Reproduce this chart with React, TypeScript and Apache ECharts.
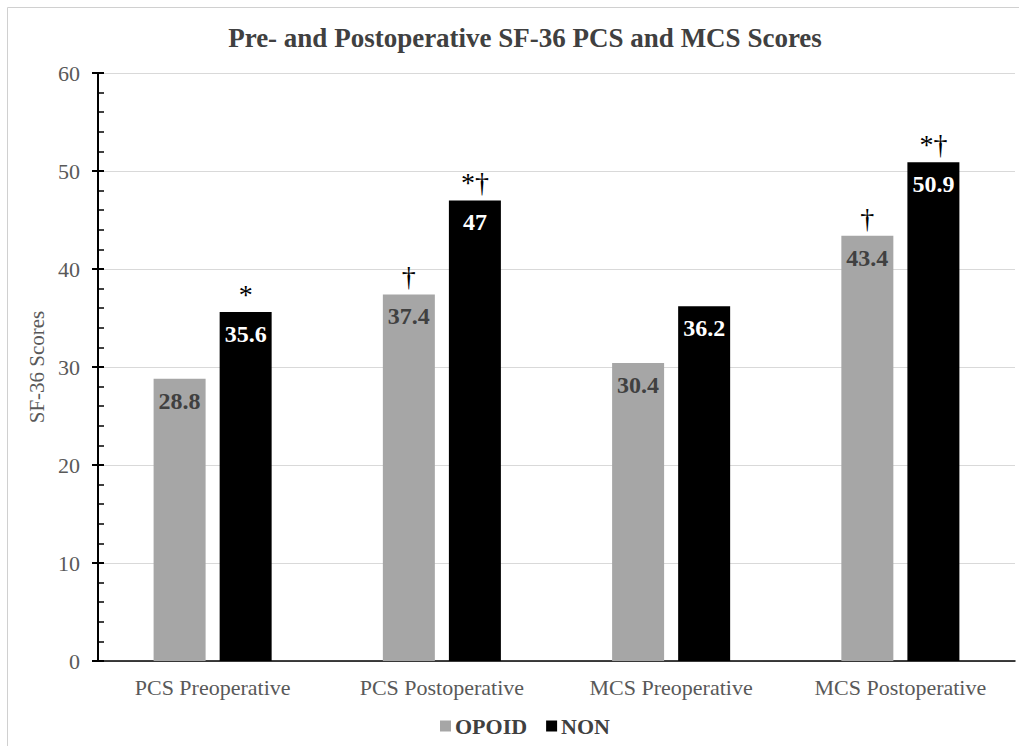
import React, { useEffect, useRef } from "react";
import * as echarts from "echarts";

const categories = ["PCS Preoperative", "PCS Postoperative", "MCS Preoperative", "MCS Postoperative"];
const opoidValues = [28.8, 37.4, 30.4, 43.4];
const nonValues = [35.6, 47, 36.2, 50.9];
const opoidMarks = ["", "†", "", "†"];
const nonMarks = ["*", "*†", "", "*†"];
const yTicks = { min: 0, max: 60, interval: 10 };

const FONT = "'Liberation Serif', 'Times New Roman', serif";

function marks(values: number[], notes: string[]) {
  return values
    .map((v, i) => ({ coord: [i, v], name: notes[i], label: { formatter: notes[i] } }))
    .filter((d) => d.name !== "");
}

export default function App() {
  const ref = useRef<HTMLDivElement>(null);
  useEffect(() => {
    const chart = echarts.init(ref.current!, null, { renderer: "svg" });
    const markPointCommon = {
      symbol: "rect",
      symbolSize: 1,
      itemStyle: { color: "rgba(0,0,0,0)" },
      label: {
        show: true,
        position: "top",
        distance: 3,
        color: "#000",
        fontFamily: FONT,
        fontSize: 28,
        fontWeight: "normal",
      },
    };
    chart.setOption({
      animation: false,
      backgroundColor: "#fff",
      title: {
        text: "Pre- and Postoperative SF-36 PCS and MCS Scores",
        left: 520,
        top: 19,
        textAlign: "center",
        textStyle: { fontFamily: FONT, fontSize: 27, fontWeight: "bold", color: "#404040" },
      },
      graphic: [
        {
          type: "rect",
          shape: { x: 7.5, y: 7.5, width: 1200, height: 900 },
          style: { fill: "none", stroke: "#d0d0d0", lineWidth: 1 },
          silent: true,
          z: -1,
        },
      ],
      legend: {
        left: 435,
        top: 710,
        itemWidth: 11,
        itemHeight: 11,
        itemGap: 19,
        icon: "rect",
        textStyle: { fontFamily: FONT, fontSize: 22, fontWeight: "bold", color: "#404040", padding: [0, 0, 0, -1] },
        data: ["OPOID", "NON"],
      },
      grid: { left: 98, right: 4, top: 73, bottom: 85 },
      xAxis: {
        type: "category",
        data: categories,
        axisLine: { lineStyle: { color: "#000", width: 1.5 } },
        axisTick: { show: false },
        axisLabel: { fontFamily: FONT, fontSize: 22, color: "#595959", margin: 15 },
      },
      yAxis: [
        {
          type: "value",
          min: yTicks.min,
          max: yTicks.max,
          interval: yTicks.interval,
          name: "SF-36 Scores",
          nameLocation: "middle",
          nameGap: 43,
          nameTextStyle: { fontFamily: FONT, fontSize: 21, color: "#595959" },
          axisLine: { show: true, lineStyle: { color: "#000", width: 2 } },
          axisTick: { show: true, inside: false, length: 6, lineStyle: { color: "#000", width: 2 } },
          axisLabel: { fontFamily: FONT, fontSize: 22, color: "#595959", margin: 18 },
          splitLine: { show: true, lineStyle: { color: "#d9d9d9", width: 1 } },
        },
        {
          type: "value",
          position: "left",
          min: yTicks.min,
          max: yTicks.max,
          interval: yTicks.interval,
          axisLine: { show: false },
          axisTick: { show: true, inside: true, length: 6, lineStyle: { color: "#000", width: 2 } },
          minorTick: { show: true, splitNumber: 5, length: 6, lineStyle: { color: "#000", width: 1.5 } },
          axisLabel: { show: false },
          splitLine: { show: false },
        },
      ],
      series: [
        {
          name: "OPOID",
          type: "bar",
          data: opoidValues,
          barWidth: 52,
          barGap: "27%",
          itemStyle: { color: "#a6a6a6" },
          label: {
            show: true,
            position: "insideTop",
            distance: 10,
            fontFamily: FONT,
            fontSize: 24,
            fontWeight: "bold",
            color: "#404040",
          },
          markPoint: { ...markPointCommon, data: marks(opoidValues, opoidMarks) },
        },
        {
          name: "NON",
          type: "bar",
          data: nonValues,
          barWidth: 52,
          barGap: "27%",
          itemStyle: { color: "#000" },
          label: {
            show: true,
            position: "insideTop",
            distance: 10,
            fontFamily: FONT,
            fontSize: 24,
            fontWeight: "bold",
            color: "#fff",
          },
          markPoint: { ...markPointCommon, data: marks(nonValues, nonMarks) },
        },
      ],
    });
    return () => chart.dispose();
  }, []);
  return (
    <div
      ref={ref}
      style={{ position: "absolute", left: 0, top: 0, width: 1019, height: 746 }}
    />
  );
}
